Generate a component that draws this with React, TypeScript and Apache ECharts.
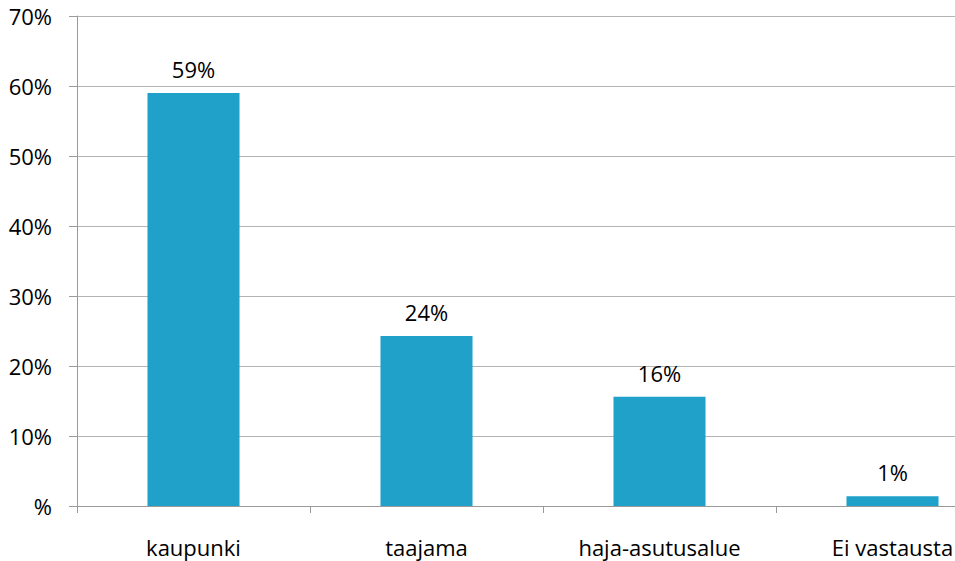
import React, { useEffect, useRef } from "react";
import * as echarts from "echarts";

const categories = ["kaupunki", "taajama", "haja-asutusalue", "Ei vastausta"];
const values = [59, 24.3, 15.6, 1.4];
const valueLabels = ["59%", "24%", "16%", "1%"];
const yTicks = [0, 10, 20, 30, 40, 50, 60, 70];

export default function App() {
  const ref = useRef<HTMLDivElement>(null);
  useEffect(() => {
    if (!ref.current) return;
    const chart = echarts.init(ref.current, null, { renderer: "svg" });
    const font = "'Open Sans', 'Noto Sans', sans-serif";
    chart.setOption({
      animation: false,
      grid: { left: 77, top: 16, right: 1, bottom: 55, containLabel: false },
      xAxis: {
        type: "category",
        data: categories,
        axisLine: { show: true, lineStyle: { color: "#9a9a9a", width: 1 } },
        axisTick: { show: true, length: 7, lineStyle: { color: "#9a9a9a" }, alignWithLabel: false },
        axisLabel: { color: "#000", fontSize: 22, fontFamily: font, margin: 30 },
      },
      yAxis: {
        type: "value",
        min: yTicks[0],
        max: yTicks[yTicks.length - 1],
        interval: 10,
        axisLine: { show: true, lineStyle: { color: "#9a9a9a", width: 1 } },
        axisTick: { show: true, length: 8, lineStyle: { color: "#9a9a9a" } },
        splitLine: { show: true, lineStyle: { color: "#b4b4b4", width: 1 } },
        axisLabel: {
          color: "#000",
          fontSize: 22,
          fontFamily: font,
          margin: 25,
          formatter: (v: number) => (v === 0 ? "%" : v + "%"),
        },
      },
      series: [
        {
          type: "bar",
          data: values,
          barWidth: "39.5%",
          itemStyle: { color: "#1FA1CA" },
          label: {
            show: true,
            position: "top",
            distance: 13,
            color: "#000",
            fontSize: 22,
            fontFamily: font,
            formatter: (p: any) => valueLabels[p.dataIndex],
          },
        },
      ],
    });
    return () => chart.dispose();
  }, []);
  return (
    <div style={{ width: 955, height: 561, position: "absolute", left: 0, top: 0, overflow: "hidden" }}>
      <div ref={ref} style={{ width: 1010, height: 561 }} />
    </div>
  );
}
